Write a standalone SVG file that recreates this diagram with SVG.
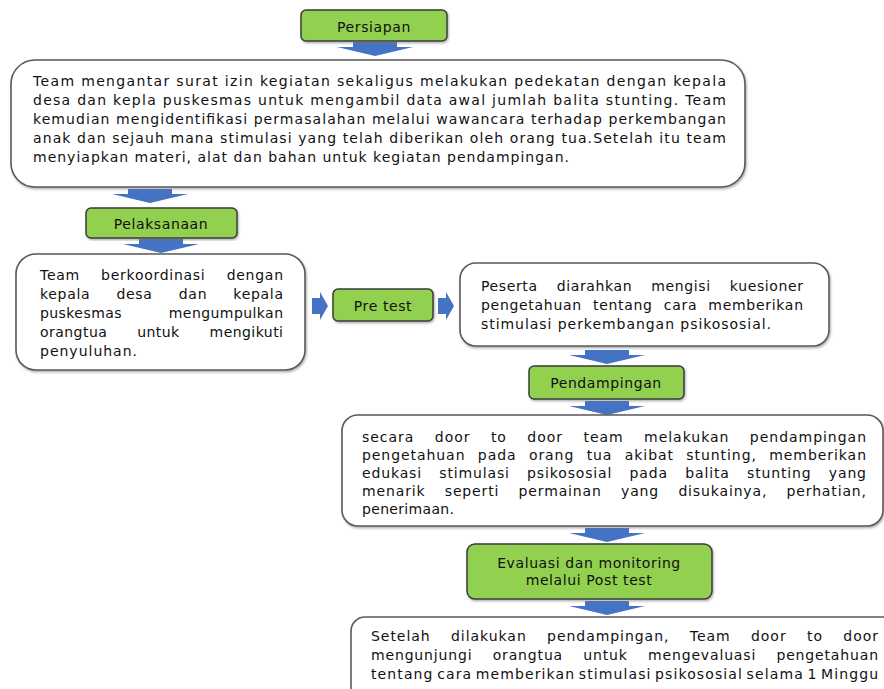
<svg xmlns="http://www.w3.org/2000/svg" width="884" height="689" viewBox="0 0 884 689">
<style>
.bg{fill:#ffffff}
.step{fill:#92D050;stroke:#3b3b3b;stroke-width:1.5}
.box{fill:#ffffff;stroke:#5a5a5a;stroke-width:1.6}
.arr{fill:#4472C4}
text{font-family:"DejaVu Sans","Liberation Sans",sans-serif;font-size:14px;fill:#111111}
.lbl{text-anchor:middle;letter-spacing:0.6px}
</style>
<defs>
<filter id="sh" x="-5%" y="-5%" width="110%" height="115%">
<feDropShadow dx="1" dy="1.5" stdDeviation="0.8" flood-color="#777777" flood-opacity="0.6"/>
</filter>
<path id="down" d="M-22,0 H22 V5 H38 L0,14 L-38,5 H-22 Z"/>
<path id="right" d="M0,-8 H8 V-14 L16,0 L8,14 V8 H0 Z"/>
</defs>
<rect class="bg" x="0" y="0" width="884" height="689"/>

<g id="connectors">
<use href="#down" class="arr" x="375" y="42"/>
<use href="#down" class="arr" x="150" y="189"/>
<use href="#down" class="arr" x="161" y="239"/>
<use href="#right" class="arr" x="312" y="306"/>
<use href="#right" class="arr" x="438" y="306"/>
<use href="#down" class="arr" x="607" y="350"/>
<use href="#down" class="arr" x="607" y="401"/>
<use href="#down" class="arr" x="607" y="528"/>
<use href="#down" class="arr" x="607" y="601"/>
</g>

<g id="persiapan">
<rect class="step" x="301" y="10" width="146" height="31" rx="5" filter="url(#sh)"/>
<text class="lbl" x="374" y="32">Persiapan</text>
</g>

<g id="box1">
<rect class="box" x="11" y="60" width="734" height="127" rx="24" filter="url(#sh)"/>
<text x="33" y="86" textLength="693" lengthAdjust="spacing">Team mengantar surat izin kegiatan sekaligus melakukan pedekatan dengan kepala</text>
<text x="33" y="105" textLength="693" lengthAdjust="spacing">desa dan kepla puskesmas untuk  mengambil data awal  jumlah balita stunting. Team</text>
<text x="33" y="124" textLength="693" lengthAdjust="spacing">kemudian mengidentifikasi permasalahan melalui wawancara terhadap perkembangan</text>
<text x="33" y="143" textLength="693" lengthAdjust="spacing">anak dan sejauh mana stimulasi yang telah diberikan oleh orang tua.Setelah itu team</text>
<text x="33" y="162" textLength="536" lengthAdjust="spacing">menyiapkan materi, alat dan bahan untuk kegiatan pendampingan.</text>
</g>

<g id="pelaksanaan">
<rect class="step" x="86" y="208" width="151" height="30" rx="5" filter="url(#sh)"/>
<text class="lbl" x="161" y="229">Pelaksanaan</text>
</g>

<g id="box2">
<rect class="box" x="16" y="254" width="289" height="116" rx="20" filter="url(#sh)"/>
<text x="40" y="280" textLength="243" lengthAdjust="spacing" word-spacing="16">Team berkoordinasi dengan</text>
<text x="40" y="299" textLength="243" lengthAdjust="spacing" word-spacing="21">kepala desa dan kepala</text>
<text x="40" y="318" textLength="243" lengthAdjust="spacing" word-spacing="42">puskesmas mengumpulkan</text>
<text x="40" y="337" textLength="243" lengthAdjust="spacing" word-spacing="25">orangtua untuk mengikuti</text>
<text x="40" y="356" textLength="97" lengthAdjust="spacing">penyuluhan.</text>
</g>

<g id="pretest">
<rect class="step" x="333" y="289" width="100" height="32" rx="5" filter="url(#sh)"/>
<text class="lbl" x="383" y="311">Pre test</text>
</g>

<g id="box3">
<rect class="box" x="460" y="263" width="369" height="83" rx="16" filter="url(#sh)"/>
<text x="481" y="291" textLength="322" lengthAdjust="spacing" word-spacing="14">Peserta diarahkan mengisi kuesioner</text>
<text x="481" y="310" textLength="322" lengthAdjust="spacing" word-spacing="6">pengetahuan tentang cara memberikan</text>
<text x="481" y="329" textLength="290" lengthAdjust="spacing">stimulasi perkembangan psikososial.</text>
</g>

<g id="pendampingan">
<rect class="step" x="529" y="366" width="155" height="33" rx="5" filter="url(#sh)"/>
<text class="lbl" x="606" y="388">Pendampingan</text>
</g>

<g id="box4">
<rect class="box" x="342" y="415" width="541" height="111" rx="16" filter="url(#sh)"/>
<text x="362" y="442" textLength="504" lengthAdjust="spacing" word-spacing="15">secara door to door team melakukan pendampingan</text>
<text x="362" y="460" textLength="504" lengthAdjust="spacing" word-spacing="7">pengetahuan pada orang tua akibat stunting, memberikan</text>
<text x="362" y="478" textLength="504" lengthAdjust="spacing" word-spacing="12">edukasi stimulasi psikososial pada balita stunting yang</text>
<text x="362" y="496" textLength="504" lengthAdjust="spacing" word-spacing="14">menarik seperti permainan yang disukainya, perhatian,</text>
<text x="362" y="514" textLength="92" lengthAdjust="spacing">penerimaan.</text>
</g>

<g id="evaluasi">
<rect class="step" x="467" y="544" width="245" height="55" rx="8" filter="url(#sh)"/>
<text class="lbl" x="589" y="568">Evaluasi dan monitoring</text>
<text class="lbl" x="589" y="585">melalui Post test</text>
</g>

<g id="box5">
<rect class="box" x="351" y="617" width="560" height="110" rx="14"/>
<text x="371" y="641" textLength="507" lengthAdjust="spacing" word-spacing="15">Setelah dilakukan pendampingan, Team door to door</text>
<text x="371" y="660" textLength="507" lengthAdjust="spacing" word-spacing="15">mengunjungi orangtua untuk mengevaluasi pengetahuan</text>
<text x="371" y="679" textLength="507" lengthAdjust="spacing" word-spacing="-2">tentang cara memberikan stimulasi psikososial selama 1 Minggu</text>
</g>
</svg>
